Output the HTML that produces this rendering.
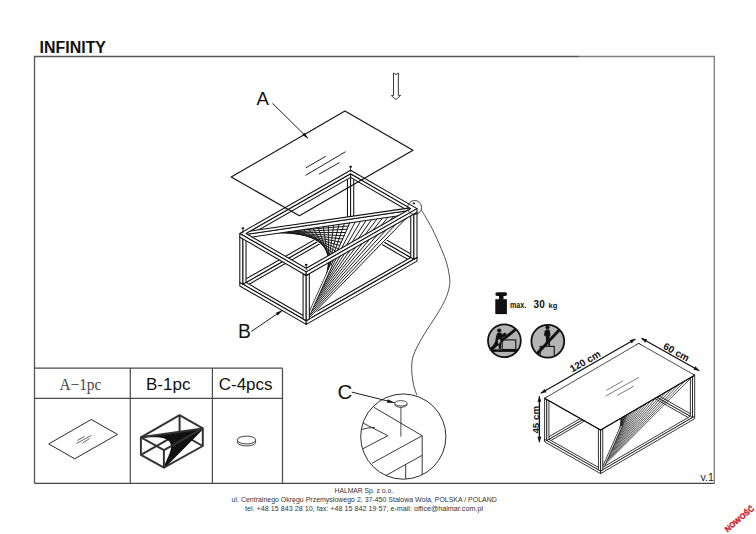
<!DOCTYPE html>
<html><head><meta charset="utf-8"><style>
html,body{margin:0;padding:0;background:#fff;}
svg{display:block;}
</style></head><body>
<svg width="756" height="534" viewBox="0 0 756 534">
<text x="39.6" y="52.8" font-family="Liberation Sans" font-weight="bold" font-size="15.95" fill="#111">INFINITY</text><path d="M34.5,483.3V56.5H579" fill="none" stroke="#555" stroke-width="1.3"/><path d="M579,56.5H714.3V483.3" fill="none" stroke="#808080" stroke-width="1.35"/><path d="M34.5,483.3H714.3" fill="none" stroke="#444" stroke-width="1.3"/><path d="M34.5,368.2H282.5M34.5,398.4H282.5M130.3,368.2V483.3M212.4,368.2V483.3M282.5,368.2V483.3" stroke="#4a4a4a" stroke-width="1.2" fill="none"/><text x="59.4" y="389.7" textLength="42" lengthAdjust="spacingAndGlyphs" font-family="Liberation Serif" font-size="16.8" fill="#484848">A&#8722;1pc</text><text x="146.0" y="389.6" font-family="Liberation Sans" font-size="17" fill="#111">B-1pc</text><text x="218.7" y="389.6" font-family="Liberation Sans" font-size="17" fill="#111">C-4pcs</text><polygon points="48.7,443.9 91.3,419.5 117.5,434.4 74.7,458.8" fill="none" stroke="#111" stroke-width="0.9" stroke-linejoin="round" /><path d="M77.3,440.5L84.7,436.3M76.5,443.5L91.6,435.3M82.3,443.3L89.6,438.5" stroke="#333" stroke-width="0.75" fill="none"/><path d="M140.9,437.3L179.6,415.2L202.8,428.4M179.6,415.2V432.8M140.9,454.9L179.6,432.8L202.8,446" stroke="#333" stroke-width="2.0" fill="none" stroke-linejoin="round"/><path d="M140.9,437.3L179.6,432.8M141.93,437.15L179.34,433.38M142.96,437L179.08,433.96M144,436.86L178.81,434.55M145.03,436.71L178.55,435.13M146.06,436.56L178.29,435.71M147.09,436.41L178.03,436.29M148.12,436.26L177.77,436.87M149.15,436.11L177.51,437.45M150.19,435.97L177.25,438.04M151.22,435.82L176.98,438.62M152.25,435.67L176.72,439.2M153.28,435.52L176.46,439.78M154.31,435.37L176.2,440.36M155.34,435.22L175.94,440.94M156.38,435.07L175.68,441.53M157.41,434.93L175.41,442.11M158.44,434.78L175.15,442.69M159.47,434.63L174.89,443.27M160.5,434.48L174.63,443.85M161.53,434.33L174.37,444.43M162.56,434.19L174.1,445.02M163.6,434.04L173.84,445.6M164.63,433.89L173.58,446.18M165.66,433.74L173.32,446.76M166.69,433.59L173.06,447.34M167.72,433.44L172.8,447.92M168.75,433.3L172.53,448.51M169.79,433.15L172.27,449.09M170.82,433L172.01,449.67M171.85,432.85L171.75,450.25M172.88,432.7L171.49,450.83M173.91,432.55L171.23,451.41M174.95,432.4L170.97,452M175.98,432.26L170.7,452.58M177.01,432.11L170.44,453.16M178.04,431.96L170.18,453.74M179.07,431.81L169.92,454.32M180.1,431.66L169.66,454.9M181.14,431.51L169.4,455.49M182.17,431.37L169.13,456.07M183.2,431.22L168.87,456.65M184.23,431.07L168.61,457.23M185.26,430.92L168.35,457.81M186.29,430.77L168.09,458.39M187.33,430.62L167.82,458.98M188.36,430.48L167.56,459.56M189.39,430.33L167.3,460.14M190.42,430.18L167.04,460.72M191.45,430.03L166.78,461.3M192.48,429.88L166.52,461.88M193.52,429.73L166.25,462.47M194.55,429.59L165.99,463.05M195.58,429.44L165.73,463.63M196.61,429.29L165.47,464.21M197.64,429.14L165.21,464.79M198.67,428.99L164.95,465.37M199.71,428.84L164.69,465.96M200.74,428.7L164.42,466.54M201.77,428.55L164.16,467.12M202.8,428.4L163.9,467.7" stroke="#111" stroke-width="1.5" fill="none"/><path d="M140.9,437.3L163.9,450.1L202.8,428.4V446L163.9,467.7L140.9,454.9ZM163.9,450.1V467.7M140.9,437.3L202.8,428.4" stroke="#333" stroke-width="2.0" fill="none" stroke-linejoin="round"/><ellipse cx="246.5" cy="442" rx="9.3" ry="3.9" fill="#fff" stroke="#333" stroke-width="0.9"/><ellipse cx="246.5" cy="440" rx="9.3" ry="3.9" fill="#fff" stroke="#333" stroke-width="0.9"/><polygon points="350.59,226.29 410.76,261.08 410.76,257.48 350.59,222.69" fill="#fff" stroke="#111" stroke-width="1.05" stroke-linejoin="round" /><polygon points="246.04,286.02 350.59,226.29 350.59,222.69 246.04,282.42" fill="#fff" stroke="#111" stroke-width="1.05" stroke-linejoin="round" /><path d="M239.8,282.4 L350.6,219.1 L417,257.5 L306.2,320.8 Z M246.04,282.42 L350.59,222.69 L410.76,257.48 L306.21,317.21 Z" fill="#fff" fill-rule="evenodd" stroke="#111" stroke-width="1.05" stroke-linejoin="round"/><polygon points="239.8,286 306.2,324.4 306.2,320.8 239.8,282.4" fill="#fff" stroke="#111" stroke-width="1.05" stroke-linejoin="round" /><polygon points="306.2,324.4 417,261.1 417,257.5 306.2,320.8" fill="#fff" stroke="#111" stroke-width="1.05" stroke-linejoin="round" /><polygon points="347.47,220.89 350.59,222.69 350.59,177.39 347.47,175.59" fill="#fff" stroke="#111" stroke-width="1.05" stroke-linejoin="round" /><polygon points="350.59,222.69 353.72,220.9 353.72,175.6 350.59,177.39" fill="#fff" stroke="#111" stroke-width="1.05" stroke-linejoin="round" /><polygon points="347.47,175.59 350.6,173.8 353.72,175.6 350.59,177.39" fill="#fff" stroke="#111" stroke-width="1.05" stroke-linejoin="round" /><polygon points="239.8,282.4 242.92,284.2 242.92,238.9 239.8,237.1" fill="#fff" stroke="#111" stroke-width="1.05" stroke-linejoin="round" /><polygon points="242.92,284.2 246.04,282.42 246.04,237.12 242.92,238.9" fill="#fff" stroke="#111" stroke-width="1.05" stroke-linejoin="round" /><polygon points="239.8,237.1 242.93,235.31 246.04,237.12 242.92,238.9" fill="#fff" stroke="#111" stroke-width="1.05" stroke-linejoin="round" /><polygon points="410.76,257.48 413.87,259.29 413.87,213.99 410.76,212.18" fill="#fff" stroke="#111" stroke-width="1.05" stroke-linejoin="round" /><polygon points="413.87,259.29 417,257.5 417,212.2 413.87,213.99" fill="#fff" stroke="#111" stroke-width="1.05" stroke-linejoin="round" /><polygon points="410.76,212.18 413.88,210.4 417,212.2 413.87,213.99" fill="#fff" stroke="#111" stroke-width="1.05" stroke-linejoin="round" /><polygon points="350.59,177.39 410.76,212.18 410.76,208.58 350.59,173.79" fill="#fff" stroke="#111" stroke-width="1.05" stroke-linejoin="round" /><polygon points="246.04,237.12 350.59,177.39 350.59,173.79 246.04,233.52" fill="#fff" stroke="#111" stroke-width="1.05" stroke-linejoin="round" /><path d="M242.92,235.31L350.6,222.69M245.06,235L350.04,223.92M247.2,234.69L349.49,225.15M249.33,234.37L348.93,226.37M251.47,234.06L348.38,227.6M253.61,233.75L347.82,228.83M255.74,233.44L347.27,230.05M257.88,233.13L346.71,231.28M260.02,232.82L346.16,232.51M262.15,232.51L345.6,233.73M264.29,232.19L345.05,234.96M266.43,231.88L344.49,236.18M268.56,231.57L343.94,237.41M270.7,231.26L343.38,238.64M272.84,230.95L342.83,239.86M274.98,230.64L342.27,241.09M277.11,230.32L341.72,242.32M279.25,230.01L341.16,243.54M281.39,229.7L340.61,244.77M283.52,229.39L340.05,246M285.66,229.08L339.5,247.22M287.8,228.77L338.94,248.45M289.93,228.46L338.39,249.67M292.07,228.14L337.83,250.9M294.21,227.83L337.28,252.13M296.35,227.52L336.72,253.35M298.48,227.21L336.17,254.58M300.62,226.9L335.61,255.81M302.76,226.59L335.06,257.03M304.89,226.28L334.5,258.26M307.03,225.96L333.95,259.49M309.17,225.65L333.39,260.71M311.3,225.34L332.84,261.94M313.44,225.03L332.28,263.17M315.58,224.72L331.73,264.39M317.72,224.41L331.17,265.62M319.85,224.1L330.62,266.84M321.99,223.78L330.06,268.07M324.13,223.47L329.51,269.3M326.26,223.16L328.95,270.52M328.4,222.85L328.4,271.75M330.54,222.54L327.85,272.98M332.67,222.23L327.29,274.2M334.81,221.92L326.74,275.43M336.95,221.6L326.18,276.66M339.08,221.29L325.63,277.88M341.22,220.98L325.07,279.11M343.36,220.67L324.52,280.33M345.5,220.36L323.96,281.56M347.63,220.05L323.41,282.79M349.77,219.74L322.85,284.01M351.91,219.42L322.3,285.24M354.04,219.11L321.74,286.47M356.18,218.8L321.19,287.69M358.32,218.49L320.63,288.92M360.45,218.18L320.08,290.15M362.59,217.87L319.52,291.37M364.73,217.56L318.97,292.6M366.87,217.24L318.41,293.83M369,216.93L317.86,295.05M371.14,216.62L317.3,296.28M373.28,216.31L316.75,297.5M375.41,216L316.19,298.73M377.55,215.69L315.64,299.96M379.69,215.38L315.08,301.18M381.82,215.06L314.53,302.41M383.96,214.75L313.97,303.64M386.1,214.44L313.42,304.86M388.24,214.13L312.86,306.09M390.37,213.82L312.31,307.32M392.51,213.51L311.75,308.54M394.65,213.19L311.2,309.77M396.78,212.88L310.64,310.99M398.92,212.57L310.09,312.22M401.06,212.26L309.53,313.45M403.19,211.95L308.98,314.67M405.33,211.64L308.42,315.9M407.47,211.33L307.87,317.13M409.6,211.01L307.31,318.35M411.74,210.7L306.76,319.58M413.88,210.39L306.2,320.81" stroke="#fff" stroke-width="2.2" fill="none"/><path d="M242.92,235.31L350.6,222.69M248.62,234.48L349.12,225.96M254.32,233.65L347.64,229.23M260.02,232.82L346.16,232.51M265.72,231.99L344.68,235.78M271.41,231.16L343.2,239.05M277.11,230.32L341.72,242.32M282.81,229.49L340.24,245.59M288.51,228.66L338.76,248.86M294.21,227.83L337.28,252.13M299.91,227L335.8,255.4M305.61,226.17L334.32,258.67M311.3,225.34L332.84,261.94M317,224.51L331.36,265.21M322.7,223.68L329.88,268.48M328.4,222.85L328.4,271.75M334.1,222.02L326.92,275.02M339.8,221.19L325.44,278.29M345.5,220.36L323.96,281.56M351.19,219.53L322.48,284.83M356.89,218.7L321,288.1M362.59,217.87L319.52,291.37M368.29,217.04L318.04,294.64M373.99,216.21L316.56,297.91M379.69,215.38L315.08,301.18M385.39,214.54L313.6,304.45M391.08,213.71L312.12,307.72M396.78,212.88L310.64,310.99M402.48,212.05L309.16,314.27M408.18,211.22L307.68,317.54M413.88,210.39L306.2,320.81" stroke="#1a1a1a" stroke-width="1.0" fill="none"/><path d="M306.2,320.81 L331.06,265.86" stroke="#111" stroke-width="2.6" fill="none"/><path d="M306.2,320.81 L331.06,265.86" stroke="#fff" stroke-width="1.2" fill="none"/><polygon points="303.08,319 306.2,320.8 306.2,275.5 303.08,273.7" fill="#fff" stroke="#111" stroke-width="1.05" stroke-linejoin="round" /><polygon points="306.2,320.8 309.33,319.01 309.33,273.71 306.2,275.5" fill="#fff" stroke="#111" stroke-width="1.05" stroke-linejoin="round" /><polygon points="303.08,273.7 306.21,271.91 309.33,273.71 306.2,275.5" fill="#fff" stroke="#111" stroke-width="1.05" stroke-linejoin="round" /><polygon points="243.45,238.34 414.41,213.42 414.41,209.82 243.45,234.74" fill="#fff" stroke="#111" stroke-width="1.05" stroke-linejoin="round" /><polygon points="242.39,232.28 413.35,207.36 414.41,209.82 243.45,234.74" fill="#fff" stroke="#111" stroke-width="1.05" stroke-linejoin="round" /><path d="M239.8,233.5 L350.6,170.2 L417,208.6 L306.2,271.9 Z M246.04,233.52 L350.59,173.79 L410.76,208.58 L306.21,268.31 Z" fill="#fff" fill-rule="evenodd" stroke="#111" stroke-width="1.05" stroke-linejoin="round"/><polygon points="239.8,237.1 306.2,275.5 306.2,271.9 239.8,233.5" fill="#fff" stroke="#111" stroke-width="1.05" stroke-linejoin="round" /><polygon points="306.2,275.5 417,212.2 417,208.6 306.2,271.9" fill="#fff" stroke="#111" stroke-width="1.05" stroke-linejoin="round" /><line x1="242.92" y1="233.51" x2="242.92" y2="228.51" stroke="#111" stroke-width="0.8"/><ellipse cx="242.92" cy="228.21" rx="1.4" ry="1" fill="#111"/><line x1="350.6" y1="171.99" x2="350.6" y2="166.99" stroke="#111" stroke-width="0.8"/><ellipse cx="350.6" cy="166.69" rx="1.4" ry="1" fill="#111"/><line x1="306.2" y1="270.11" x2="306.2" y2="265.11" stroke="#111" stroke-width="0.8"/><ellipse cx="306.2" cy="264.81" rx="1.4" ry="1" fill="#111"/><polygon points="344.9,111 413,150.3 299.4,215.7 231.2,177.1" fill="none" stroke="#111" stroke-width="1.15" stroke-linejoin="round" /><path d="M305.9,167.8L325.8,156.3M305.5,175.4L345.6,151.7M319,174.2L339.5,162.5" stroke="#222" stroke-width="1" fill="none"/><path d="M393.5,73.1 L395.9,74.6 L398.4,73.1 L398.3,95.4 L400.6,95.4 L395.9,99.6 L391.3,95.6 L393.5,95.5 Z" fill="#fff" stroke="#222" stroke-width="0.9" stroke-linejoin="miter"/><text x="256.4" y="105.3" font-family="Liberation Sans" font-size="18.6" fill="#111">A</text><text x="238.1" y="337.5" font-family="Liberation Sans" font-size="19.3" fill="#111">B</text><text x="337.6" y="398.9" font-family="Liberation Sans" font-size="20.5" fill="#111">C</text><line x1="272.5" y1="103.4" x2="307.9" y2="138.2" stroke="#111" stroke-width="0.95"/><polygon points="308.4,138.7 302.29,134.93 304.53,132.65" fill="#111"/><line x1="251.3" y1="331.5" x2="282.3" y2="310.4" stroke="#111" stroke-width="0.95"/><polygon points="282.6,310.2 277.77,315.54 275.86,312.73" fill="#111"/><line x1="351.8" y1="392.1" x2="394.8" y2="402.8" stroke="#111" stroke-width="0.95"/><polygon points="394.6,402.7 386.89,402.64 387.75,399.15" fill="#111"/><circle cx="414.6" cy="207.5" r="7" fill="none" stroke="#222" stroke-width="0.85"/><ellipse cx="413.9" cy="203.4" rx="1.3" ry="0.9" fill="#111"/><path d="M421.6,210.3 C423.32,213.27 428.62,221.68 431.9,228.1 C435.18,234.52 438.8,242.85 441.3,248.8 C443.8,254.75 445.5,258.8 446.9,263.8 C448.3,268.8 449.33,274.75 449.7,278.8 C450.07,282.85 449.88,284.57 449.1,288.1 C448.32,291.63 446.82,295.93 445,300 C443.18,304.07 441.95,306.3 438.2,312.5 C434.45,318.7 426.62,330.08 422.5,337.2 C418.38,344.32 415.3,349.95 413.5,355.2 C411.7,360.45 411.7,363.83 411.7,368.7 C411.7,373.57 412.63,379.98 413.5,384.4 C414.37,388.82 416.33,393.4 416.9,395.2" fill="none" stroke="#222" stroke-width="0.8"/><defs><clipPath id="dc"><circle cx="403.3" cy="436.6" r="42.6"/></clipPath></defs><g clip-path="url(#dc)" stroke="#222" stroke-width="0.9" fill="none"><path d="M373.7,407.2L422.2,435.7L422.2,480M422.2,435.7L371.9,463.3M360,421.5L387.9,435.7L360,450.2M360,429.8Q368,427.5 375,427.3M422.2,455.3L385,476M405.7,464.2V480"/></g><circle cx="403.3" cy="436.6" r="42.6" fill="none" stroke="#222" stroke-width="0.95"/><line x1="400.9" y1="406" x2="400.9" y2="436.6" stroke="#222" stroke-width="0.8"/><ellipse cx="400.9" cy="404.6" rx="6.2" ry="2.7" fill="#fff" stroke="#222" stroke-width="0.8"/><ellipse cx="400.9" cy="403.3" rx="6.2" ry="2.7" fill="#fff" stroke="#222" stroke-width="0.8"/><rect x="495.3" y="292.2" width="11.8" height="3.8" rx="1.9" fill="#111"/><rect x="499" y="295.5" width="4.5" height="4.2" fill="#111"/><rect x="495.3" y="299.2" width="11.6" height="14.9" fill="#111"/><text x="510" y="307.7" textLength="16.2" lengthAdjust="spacingAndGlyphs" font-family="Liberation Sans" font-weight="bold" font-size="8.5" fill="#111">max.</text><text x="533.6" y="307.8" font-family="Liberation Sans" font-weight="bold" font-size="10" fill="#111">30</text><text x="548.6" y="307.8" font-family="Liberation Sans" font-weight="bold" font-size="7.5" fill="#111">kg</text><defs><clipPath id="pc1"><circle cx="504.4" cy="340.8" r="16.4"/></clipPath><clipPath id="pc2"><circle cx="547.8" cy="341.3" r="16.4"/></clipPath></defs><circle cx="504.4" cy="340.8" r="16.4" fill="#b4b4b4"/><g clip-path="url(#pc1)"><rect x="486" y="349.3" width="36" height="2.6" fill="#111"/><rect x="502.2" y="339.9" width="13.6" height="9.6" fill="none" stroke="#111" stroke-width="1.1"/><line x1="488.6" y1="351" x2="517.2" y2="328.2" stroke="#111" stroke-width="2.9"/><circle cx="499.2" cy="330.6" r="2.1" fill="#111"/><path d="M497.2,333 L501.4,332.8 L502,334.4 L504.6,332.6 L506.4,333.4 L506.2,335.6 L502.4,337.6 L501.6,340.6 L500.8,349 L498.8,349 L498.6,344 L493.6,349.4 L491.4,348.6 L495.2,341.4 L496,336.4 Z" fill="#111"/><path d="M497.6,340.6 L499.8,338.8 L500.6,341.8 L498.6,344.2 Z" fill="#b4b4b4"/></g><circle cx="504.4" cy="340.8" r="16.4" fill="none" stroke="#111" stroke-width="1.8"/><circle cx="547.8" cy="341.3" r="16.4" fill="#b4b4b4"/><g clip-path="url(#pc2)"><rect x="540.2" y="346.4" width="14" height="14" fill="none" stroke="#111" stroke-width="1.1"/><line x1="535.2" y1="355.8" x2="560.4" y2="328.8" stroke="#111" stroke-width="2.9"/><circle cx="547.5" cy="327.3" r="2.0" fill="#111"/><path d="M546,329.4 L549.2,329.4 L550,331.6 L550.4,335.6 L549.4,337 L549.6,340.6 L550.2,346.4 L548.6,346.4 L547.8,342 L546.4,346.4 L544.8,346.4 L546,340.4 L545.8,336.6 L544,335.2 L544.6,331.4 Z" fill="#111"/></g><circle cx="547.8" cy="341.3" r="16.4" fill="none" stroke="#111" stroke-width="1.8"/><polygon points="638.71,389.39 690.37,418.73 690.37,416.23 638.71,386.89" fill="#fff" stroke="#111" stroke-width="0.85" stroke-linejoin="round" /><polygon points="548.93,441.77 638.71,389.39 638.71,386.89 548.93,439.27" fill="#fff" stroke="#111" stroke-width="0.85" stroke-linejoin="round" /><path d="M544.6,439.3 L638.7,384.4 L694.7,416.2 L600.6,471.1 Z M548.93,439.27 L638.71,386.89 L690.37,416.23 L600.59,468.61 Z" fill="#fff" fill-rule="evenodd" stroke="#111" stroke-width="0.85" stroke-linejoin="round"/><polygon points="544.6,441.8 600.6,473.6 600.6,471.1 544.6,439.3" fill="#fff" stroke="#111" stroke-width="0.85" stroke-linejoin="round" /><polygon points="600.6,473.6 694.7,418.7 694.7,416.2 600.6,471.1" fill="#fff" stroke="#111" stroke-width="0.85" stroke-linejoin="round" /><polygon points="636.54,385.66 638.71,386.89 638.71,345.89 636.54,344.66" fill="#fff" stroke="#111" stroke-width="0.85" stroke-linejoin="round" /><polygon points="638.71,386.89 640.87,385.63 640.87,344.63 638.71,345.89" fill="#fff" stroke="#111" stroke-width="0.85" stroke-linejoin="round" /><polygon points="636.54,344.66 638.7,343.4 640.87,344.63 638.71,345.89" fill="#fff" stroke="#111" stroke-width="0.85" stroke-linejoin="round" /><polygon points="544.6,439.3 546.77,440.53 546.77,399.53 544.6,398.3" fill="#fff" stroke="#111" stroke-width="0.85" stroke-linejoin="round" /><polygon points="546.77,440.53 548.93,439.27 548.93,398.27 546.77,399.53" fill="#fff" stroke="#111" stroke-width="0.85" stroke-linejoin="round" /><polygon points="544.6,398.3 546.76,397.04 548.93,398.27 546.77,399.53" fill="#fff" stroke="#111" stroke-width="0.85" stroke-linejoin="round" /><polygon points="690.37,416.23 692.54,417.46 692.54,376.46 690.37,375.23" fill="#fff" stroke="#111" stroke-width="0.85" stroke-linejoin="round" /><polygon points="692.54,417.46 694.7,416.2 694.7,375.2 692.54,376.46" fill="#fff" stroke="#111" stroke-width="0.85" stroke-linejoin="round" /><polygon points="690.37,375.23 692.53,373.97 694.7,375.2 692.54,376.46" fill="#fff" stroke="#111" stroke-width="0.85" stroke-linejoin="round" /><path d="M604,465.5 L638.71,386.9" stroke="#333" stroke-width="2.0" fill="none"/><path d="M604,465.5 L638.71,386.9" stroke="#fff" stroke-width="0.8" fill="none"/><path d="M546.77,399.54L638.71,386.9M550.41,398.96L637.84,388.86M554.05,398.38L636.97,390.83M557.7,397.81L636.1,392.79M561.34,397.23L635.24,394.76M564.99,396.65L634.37,396.72M568.63,396.08L633.5,398.69M572.28,395.5L632.63,400.65M575.92,394.92L631.77,402.62M579.56,394.35L630.9,404.58M583.21,393.77L630.03,406.55M586.85,393.19L629.16,408.51M590.5,392.61L628.3,410.48M594.14,392.04L627.43,412.44M597.78,391.46L626.56,414.41M601.43,390.88L625.69,416.37M605.07,390.31L624.82,418.34M608.72,389.73L623.96,420.3M612.36,389.15L623.09,422.27M616.01,388.58L622.22,424.23M619.65,388L621.35,426.2M623.29,387.42L620.49,428.16M626.94,386.85L619.62,430.13M630.58,386.27L618.75,432.09M634.23,385.69L617.88,434.06M637.87,385.12L617.02,436.02M641.52,384.54L616.15,437.99M645.16,383.96L615.28,439.95M648.8,383.39L614.41,441.92M652.45,382.81L613.54,443.88M656.09,382.23L612.68,445.85M659.74,381.65L611.81,447.81M663.38,381.08L610.94,449.78M667.02,380.5L610.07,451.74M670.67,379.92L609.21,453.71M674.31,379.35L608.34,455.67M677.96,378.77L607.47,457.64M681.6,378.19L606.6,459.6M685.25,377.62L605.74,461.57M688.89,377.04L604.87,463.53M692.53,376.46L604,465.5" stroke="#222" stroke-width="0.75" fill="none"/><path d="M604,465.5 L621.35,426.2" stroke="#333" stroke-width="2.0" fill="none"/><path d="M604,465.5 L621.35,426.2" stroke="#fff" stroke-width="0.8" fill="none"/><polygon points="598.43,469.87 600.6,471.1 600.6,430.1 598.43,428.87" fill="#fff" stroke="#111" stroke-width="0.85" stroke-linejoin="round" /><polygon points="600.6,471.1 602.76,469.84 602.76,428.84 600.6,430.1" fill="#fff" stroke="#111" stroke-width="0.85" stroke-linejoin="round" /><polygon points="598.43,428.87 600.59,427.61 602.76,428.84 600.6,430.1" fill="#fff" stroke="#111" stroke-width="0.85" stroke-linejoin="round" /><polygon points="544.6,398.3 638.7,343.4 694.7,375.2 600.6,430.1" fill="#fff" stroke="#111" stroke-width="0.75" stroke-linejoin="round" /><polyline points="544.6,398.3 600.6,430.1 694.7,375.2" fill="none" stroke="#111" stroke-width="1.3"/><path d="M606.3,390.4L623,380.9M605.6,396.2L639,377.3M617.2,395.5L633.9,386" stroke="#444" stroke-width="0.7" fill="none"/><line x1="540.8" y1="393.3" x2="635.4" y2="339" stroke="#111" stroke-width="1.3"/><polygon points="540.8,393.3 544.62,388.91 546.52,392.21" fill="#111"/><polygon points="635.4,339 631.58,343.39 629.68,340.09" fill="#111"/><line x1="641.4" y1="338.3" x2="699.3" y2="370.7" stroke="#111" stroke-width="1.3"/><polygon points="641.4,338.3 647.13,339.33 645.27,342.64" fill="#111"/><polygon points="699.3,370.7 693.57,369.67 695.43,366.36" fill="#111"/><line x1="539.4" y1="396.2" x2="539.4" y2="442.2" stroke="#111" stroke-width="1.3"/><polygon points="539.4,396.2 541.3,401.7 537.5,401.7" fill="#111"/><polygon points="539.4,442.2 537.5,436.7 541.3,436.7" fill="#111"/><text x="0" y="0" transform="translate(572.2,372.6) rotate(-29.8)" font-family="Liberation Sans" font-weight="bold" font-size="9.9" fill="#111">120 cm</text><text x="0" y="0" transform="translate(662.4,348.2) rotate(29.2)" font-family="Liberation Sans" font-weight="bold" font-size="9.9" fill="#111">60 cm</text><text x="0" y="0" transform="translate(538.6,433.6) rotate(-90)" font-family="Liberation Sans" font-weight="bold" font-size="9.8" fill="#111">45 cm</text><text x="700.5" y="481.3" font-family="Liberation Sans" font-size="10.5" fill="#222">v.1</text><text x="334.5" y="492.6" textLength="58.6" lengthAdjust="spacingAndGlyphs" font-family="Liberation Sans" font-size="7.2" fill="#333">HALMAR Sp. z o.o.</text><text x="231.6" y="502.1" textLength="265.2" lengthAdjust="spacingAndGlyphs" font-family="Liberation Sans" font-size="7.2" fill="#333">ul. Centralnego Okręgu Przemysłowego 2, 37-450 Stalowa Wola, POLSKA / POLAND</text><text x="245.0" y="511.1" textLength="238" lengthAdjust="spacingAndGlyphs" font-family="Liberation Sans" font-size="7.2" fill="#333">tel. +48 15 843 28 10, fax: +48 15 842 19 57, e-mail: office@halmar.com.pl</text><text x="0" y="0" transform="translate(727.4,532.4) rotate(-40)" font-family="Liberation Sans" font-weight="bold" font-size="7.75" fill="#c9202b" stroke="#c9202b" stroke-width="0.35">NOWOŚĆ</text>
</svg>
</body></html>
